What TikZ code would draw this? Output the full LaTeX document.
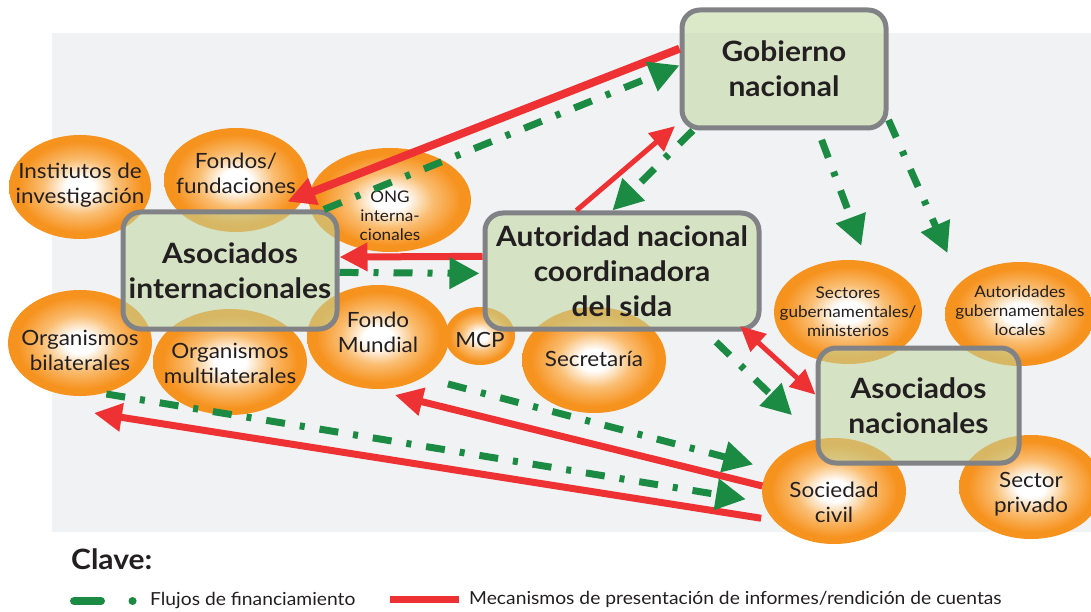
\documentclass[tikz,border=0pt]{standalone}
\usepackage{fontspec}
\setmainfont{Lato}[FakeStretch=1.07]
\usetikzlibrary{shapes.geometric,arrows.meta}

\definecolor{orbcol}{RGB}{246,146,30}
\definecolor{orbmid}{RGB}{250,190,115}
\definecolor{boxfill}{RGB}{190,215,157}
\definecolor{boxline}{RGB}{128,130,133}
\definecolor{flowgreen}{RGB}{27,138,67}
\definecolor{reportred}{RGB}{238,50,52}
\definecolor{bggray}{RGB}{241,242,244}
\definecolor{ink}{RGB}{35,31,32}

\pgfdeclareradialshading{orbshade}{\pgfpoint{0bp}{0bp}}{color(0bp)=(white); color(5bp)=(white); color(13bp)=(orbmid); color(22bp)=(orbcol); color(50bp)=(orbcol)}

\tikzset{
  orb/.style 2 args={ellipse, inner sep=0pt, outer sep=0pt, shading=orbshade, minimum width=#1, minimum height=#2},
  orbtext/.style={align=center, text=ink, inner sep=0pt, font=\fontsize{21}{25}\selectfont},
  smalltext/.style={orbtext, font=\fontsize{16}{19}\selectfont},
  panel/.style={draw=boxline, line width=5pt, rounded corners=18pt, fill=boxfill, fill opacity=0.55,
    text opacity=1, text=ink, align=center, inner sep=0pt, font=\fontsize{28}{35}\selectfont\bfseries},
  flow/.style={draw=flowgreen, line width=7pt, dash pattern=on 19pt off 15pt on 5pt off 15pt,
    -{Triangle[length=30pt,width=30pt]}},
  report/.style={draw=reportred, line width=7pt, -{Triangle[length=28pt,width=27pt]}},
  thinreport/.style={draw=reportred, line width=5pt, -{Triangle[length=25pt,width=23pt]}},
  keytext/.style={anchor=west, text=ink, inner sep=0pt, font=\fontsize{18}{20}\selectfont}
}

\begin{document}
\begin{tikzpicture}[x=1pt,y=-1pt]
\useasboundingbox (0,0) rectangle (1091,612);
\fill[bggray] (52,33) rectangle (1091,532);

% actores
\node[orb={142pt}{104pt}] (inst) at (80,187) {};
\node[orb={144pt}{104pt}] (fond) at (236,180) {};
\node[orb={162pt}{104pt}] (ong) at (390,200) {};
\node[orb={144pt}{106pt}] (bila) at (80,343) {};
\node[orb={154pt}{106pt}] (mult) at (230,362) {};
\node[orb={142pt}{104pt}] (fm) at (378,337) {};
\node[orb={70pt}{58pt}] (mcp) at (480,336) {};
\node[orb={144pt}{106pt}] (secr) at (594,360) {};
\node[orb={148pt}{104pt}] (sect) at (848,312) {};
\node[orb={150pt}{104pt}] (autl) at (1020,314) {};
\node[orb={144pt}{106pt}] (soc) at (834,491) {};
\node[orb={144pt}{104pt}] (priv) at (1031,487) {};

\node[orbtext] at (80,185) {Institutos de\\investigación};
\node[orbtext] at (236,173) {Fondos/\\fundaciones};
\node[smalltext] at (390,216) {ONG\\interna-\\cionales};
\node[orbtext] at (80,350) {Organismos\\bilaterales};
\node[orbtext] at (230,363) {Organismos\\multilaterales};
\node[orbtext] at (378,332) {Fondo\\Mundial};
\node[orbtext] at (480,340) {MCP};
\node[orbtext] at (594,359) {Secretaría};
\node[smalltext] at (848,312) {Sectores\\gubernamentales/\\ministerios};
\node[smalltext] at (1020,311) {Autoridades\\gubernamentales\\locales};
\node[orbtext] at (834,502) {Sociedad\\civil};
\node[orbtext] at (1031,494) {Sector\\privado};

% instancias principales
\node[panel, minimum width=204pt, minimum height=118pt] (gob) at (784,69) {Gobierno\\nacional};
\node[panel, minimum width=274pt, minimum height=116pt] (aut) at (622,271) {Autoridad nacional\\coordinadora\\del sida};
\node[panel, minimum width=214pt, minimum height=117pt] (asi) at (230,270.5) {Asociados\\internacionales};
\node[panel, minimum width=201pt, minimum height=115pt] (asn) at (918.5,405.5) {Asociados\\nacionales};

% informes / rendicion de cuentas
\draw[report, line width=8pt, shorten >=-19pt] (gob.169) -- (fond.-12);
\draw[thinreport, shorten >=6pt] (aut.127) -- (gob.-153);
\draw[report] (aut.174) -- (asi.7.5);
\draw[thinreport, {Triangle[length=25pt,width=23pt]}-{Triangle[length=25pt,width=23pt]}, shorten <=-8pt] (aut.-26) -- (asn.174);
\draw[report, shorten >=26.7pt] (soc.176) -- (fm.-100);
\draw[report, shorten <=13pt] (soc.-154) -- ([yshift=-18pt]bila.-75);

% financiamiento
\draw[flow] (asi.33) -- (gob.178);
\draw[flow] (gob.-146) -- (aut.99);
\draw[flow, shorten <=10pt, shorten >=17pt] (gob.-61.5) -- (sect.69);
\draw[flow, shorten >=32pt] (gob.-26) -- (autl.152);
\draw[flow, shorten >=3pt] (asi.-1) -- (aut.-179);
\draw[flow, shorten <=15pt, shorten >=35pt] (aut.-36) -- (soc.108);
\draw[flow, shorten <=26pt, shorten >=16pt] (fm.-42) -- (soc.161.5);
\draw[flow, shorten <=4pt, shorten >=18pt] (bila.-66) -- (soc.-171);

% clave
\node[anchor=west, text=ink, inner sep=0pt, font=\fontsize{28}{30}\selectfont\bfseries] (clave) at (71,559) {Clave:};
\node[keytext] (flowkey) at (150,601) {Flujos de financiamiento};
\node[keytext] (reportkey) at (469,599) {Mecanismos de presentación de informes/rendición de cuentas};
\draw[flowgreen, line width=8pt, line cap=round, dash pattern=on 27pt off 31.5pt on 0.1pt off 50pt]
  ([xshift=-76pt]flowkey.west) -- ([xshift=-17pt]flowkey.west);
\draw[reportred, line width=7pt] ([xshift=-79pt]reportkey.west) -- ([xshift=-10pt]reportkey.west);
\end{tikzpicture}
\end{document}
